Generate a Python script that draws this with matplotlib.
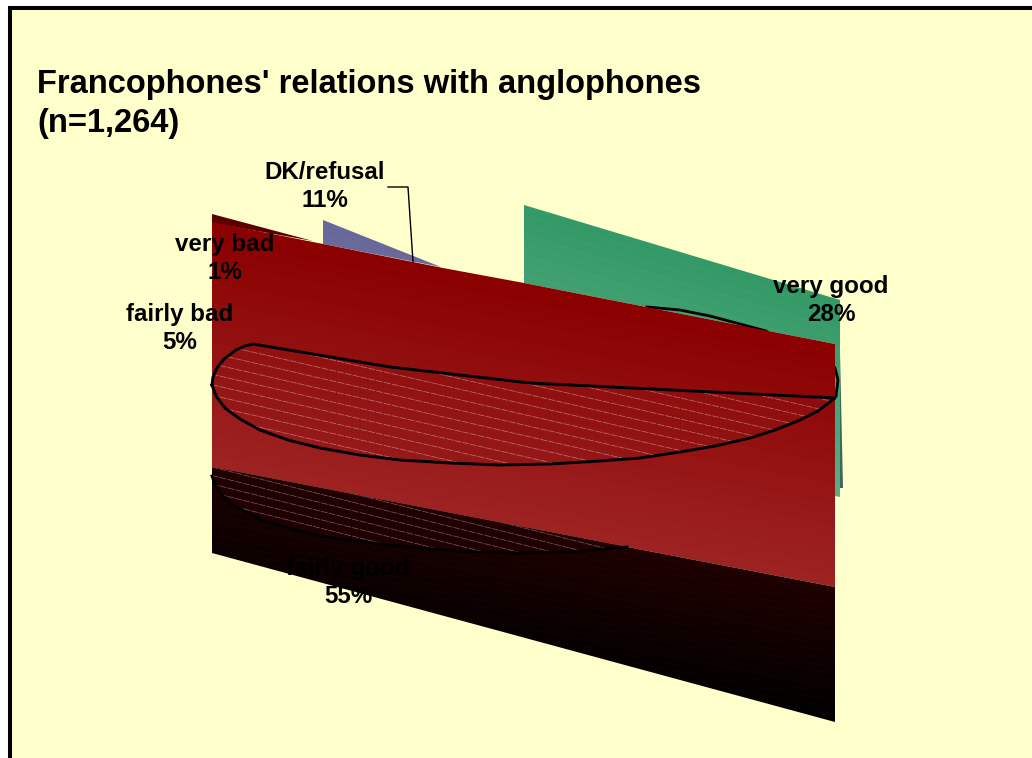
import numpy as np
import matplotlib
matplotlib.use('Agg')
import matplotlib.pyplot as plt
from matplotlib.colors import to_rgb
from matplotlib.patches import PathPatch, Polygon
from matplotlib.path import Path

plt.rcParams['font.family'] = ['Liberation Sans', 'DejaVu Sans']

# chart values
title = "Francophones' relations with anglophones\n(n=1,264)"
categories = ['DK/refusal', 'very bad', 'fairly bad', 'very good', 'fairly good']
shares = [11, 1, 5, 28, 55]

# outlines of the broken 3D pie (pixels)
verybad_outline = [(212, 214), (313, 241), (212, 223)]
blue_outline = [(323, 220), (441, 267), (323, 244)]
green_outline = [(524, 205), (840, 300), (840, 497), (835, 496), (835, 344), (524, 283)]
sliver_outline = [(840, 352), (843, 488), (840, 488)]
red_outline = [(212, 222), (323, 244), (413, 262), (443, 268), (524, 283), (835, 344), (835, 587), (212, 467)]
dark_outline = [(212, 467), (835, 587), (835, 722), (212, 553)]
top_arc = [(212, 385), (213, 377), (217, 368), (224, 359), (236, 350), (245, 346), (253, 344), (390, 367), (530, 383),
           (835, 398), (818, 411), (800, 420), (775, 430), (750, 438), (715, 446), (680, 452), (640, 458), (600, 461),
           (550, 464), (500, 465), (450, 463), (400, 460), (360, 455), (320, 448), (288, 440), (260, 430), (240, 419),
           (225, 408), (216, 396), (212, 385)]
back_arc = [(647, 307), (680, 310), (710, 316), (740, 324), (766, 331)]
side_arc = [(835, 368), (838, 380), (836, 396)]
low_arc = [(212, 476), (215, 484), (220, 493), (230, 503), (247, 513), (267, 522), (300, 531), (333, 538), (380, 544),
           (433, 549), (475, 552), (517, 553), (570, 552), (627, 547)]
low_edge = [(212, 467), (627, 547)]
leader = [(388, 187), (408, 187), (413, 262)]
label_xy = [(325, 186), (225, 258), (180, 328), (831, 300), (348, 582)]

fig = plt.figure(figsize=(10.32, 7.58), dpi=100, facecolor='white')
ax = fig.add_axes([0, 0, 1, 1])
ax.axis('off')


# polygon filled with a slanted gradient and the faint bands of the old renderer
def slant_fill(outline, c1, c2, slope, z, bands=30, band_alpha=0.05):
    pts = np.array(outline, dtype=float)
    patch = Polygon(pts, closed=True, fc='none', ec='none', transform=ax.transData)
    ax.add_patch(patch)
    x0, x1, y0, y1 = pts[:, 0].min(), pts[:, 0].max(), pts[:, 1].min(), pts[:, 1].max()
    xx, yy = np.meshgrid(np.arange(x0, x1 + 1), np.arange(y0, y1 + 1))
    s = yy - slope * xx
    lo = (pts[:, 1] - slope * pts[:, 0]).min()
    hi = (pts[:, 1] - slope * pts[:, 0]).max()
    t = np.floor((s - lo) / (hi - lo) * bands) / bands
    img = np.zeros(t.shape + (3,))
    for k in range(3):
        img[:, :, k] = to_rgb(c1)[k] + (to_rgb(c2)[k] - to_rgb(c1)[k]) * t
    im = ax.imshow(img, extent=(x0, x1 + 1, y1 + 1, y0), interpolation='nearest', aspect='auto', zorder=z)
    im.set_clip_path(patch)
    if band_alpha > 0:
        for c in np.linspace(lo, hi, bands + 1):
            ln, = ax.plot([x0, x1], [c + slope * x0, c + slope * x1], color='white', lw=0.4,
                          alpha=band_alpha, zorder=z)
            ln.set_clip_path(patch)
    return patch


def hatch_lines(clip, x0, x1, slope, start, stop, step, z, alpha=0.55):
    for c in np.arange(start, stop, step):
        ln, = ax.plot([x0, x1], [c + slope * x0, c + slope * x1], color='white', lw=0.55,
                      ls=(0, (9, 1.5)), alpha=alpha, zorder=z)
        ln.set_clip_path(clip)


# background and frame
ax.add_patch(plt.Rectangle((10, 8), 1100, 800, fc='#FFFFCC', ec='black', lw=2.9, zorder=0))

slant_fill(verybad_outline, '#5A0000', '#5A0000', 0.27, 2, bands=1, band_alpha=0)
slant_fill(blue_outline, '#666699', '#6A6A9C', 0.3, 2, bands=6, band_alpha=0.06)
slant_fill(green_outline, '#339966', '#5CAE86', 0.3, 2, bands=20, band_alpha=0.07)
slant_fill(sliver_outline, '#2F6F55', '#44665A', 0.0, 1.5, band_alpha=0)
ax.plot(*zip(*back_arc), color='black', lw=2, zorder=3)
ax.plot(*zip(*side_arc), color='black', lw=2, zorder=3)

slant_fill(red_outline, '#8B0000', '#9E2424', 0.193, 4, bands=24, band_alpha=0.03)
slant_fill(dark_outline, '#1E0000', '#000000', 0.19, 4, bands=20, band_alpha=0.03)

# upper hatched ellipse
top_patch = PathPatch(Path(top_arc), fc='#8F1414', ec='none', alpha=0.35, zorder=5)
ax.add_patch(top_patch)
hatch_lines(top_patch, 212, 836, 0.23, 210, 420, 10.5, 6, alpha=0.38)
ax.plot(*zip(*top_arc), color='black', lw=2.1, zorder=7)

# lower hatched part, between the red edge and the arc
low_shape = low_arc + low_edge[::-1]
low_patch = PathPatch(Path(low_shape), fc='#200000', ec='none', zorder=5)
ax.add_patch(low_patch)
hatch_lines(low_patch, 212, 640, 0.25, 380, 560, 8.5, 6, alpha=0.35)
ax.plot(*zip(*low_arc), color='black', lw=2.1, zorder=7)

ax.plot(*zip(*leader), color='black', lw=1, zorder=3)

for cat, val, (x, y) in zip(categories, shares, label_xy):
    ax.text(x, y + 0.5, '%s\n%d%%' % (cat, val), ha='center', va='center', fontsize=17.4, fontweight='bold',
            color='black', linespacing=1.25, zorder=8)

ax.text(37, 104, title, ha='left', va='center', fontsize=23.5, fontweight='bold', color='black',
        linespacing=1.36, zorder=8)

ax.set_xlim(0, 1032)
ax.set_ylim(758, 0)
fig.savefig('out.png', dpi=100, facecolor='white')
